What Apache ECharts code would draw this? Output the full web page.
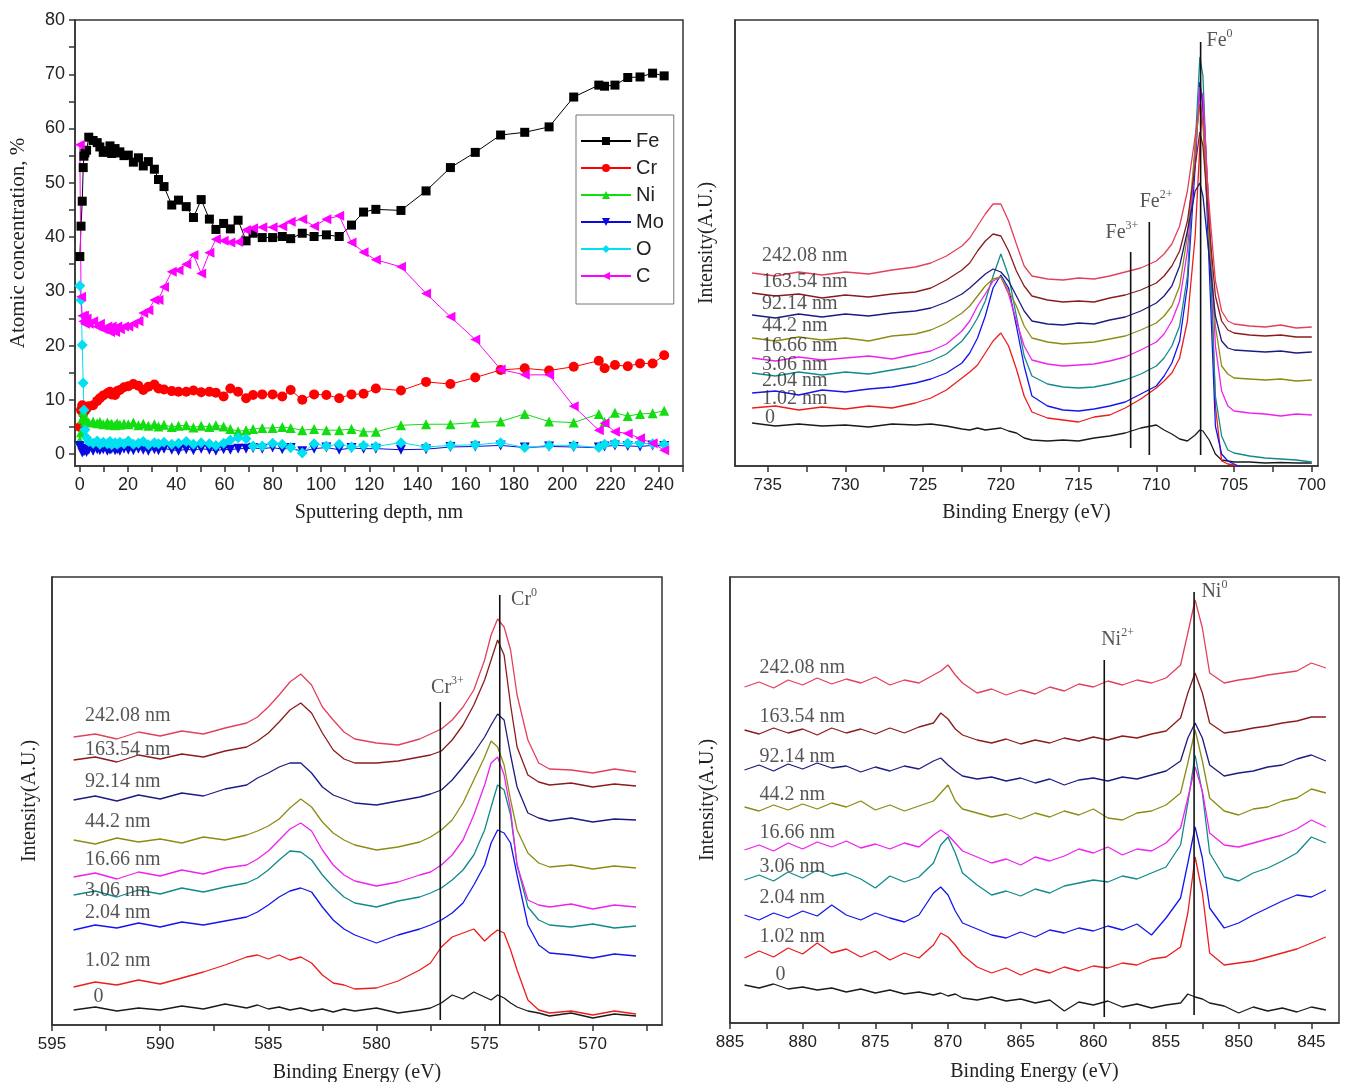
<!DOCTYPE html>
<html>
<head>
<meta charset="utf-8">
<script src="https://cdn.jsdelivr.net/npm/echarts@6/dist/echarts.min.js"></script>
<style>
  html, body { margin: 0; padding: 0; background: #fff; }
  #main { width: 1348px; height: 1082px; }
</style>
</head>
<body>
<div id="main"></div>
<script>
// ---- depth profile (top-left) ----
const depth = [0, 0.5, 1.0, 1.4, 1.7, 2.1, 2.8, 3.7, 5.5, 7.2, 8.3, 9.7, 11.4, 12.5, 13.2, 14.6, 15.5, 16.6,
  18.3, 20.1, 22.2, 24.3, 26.3, 28.4, 30.9, 32.6, 34.9, 38.1, 40.9, 44.1, 47.1, 50.3, 53.7, 56.4, 59.6, 62.4,
  65.6, 68.9, 71.8, 75.6, 79.9, 83.9, 87.4, 92.2, 97.1, 102.2, 107.5, 112.6, 117.6, 122.7, 133.1, 143.5, 153.6,
  163.9, 174.4, 184.4, 194.5, 204.7, 215.1, 217.5, 221.8, 227.1, 232.2, 237.4, 242.2];
const feConc = [36.4, 42.0, 46.6, 52.8, 54.9, 55.5, 56.0, 58.4, 57.8, 57.4, 56.6, 55.6, 55.9, 56.8, 55.4, 56.3, 55.5, 55.7,
  55.0, 55.1, 53.8, 54.6, 53.1, 53.9, 52.5, 50.6, 49.3, 45.9, 46.8, 45.6, 43.6, 46.9, 43.3, 41.4, 42.5, 41.5,
  43.1, 39.3, 40.7, 39.9, 39.9, 40.1, 39.7, 40.7, 40.1, 40.4, 40.1, 42.2, 44.6, 45.1, 44.9, 48.5, 52.8,
  55.6, 58.8, 59.3, 60.3, 65.8, 68.0, 67.8, 68.0, 69.4, 69.5, 70.2, 69.7];
const crConc = [5.0, 8.1, 9.0, 7.5, 8.5, 8.0, 8.4, 8.8, 9.0, 9.8, 10.3, 10.8, 11.2, 11.5, 11.0, 10.9, 11.6, 11.8,
  12.3, 12.5, 12.9, 12.6, 11.8, 12.4, 12.8, 12.1, 11.9, 11.6, 11.5, 11.5, 11.7, 11.4, 11.5, 11.3, 10.6, 12.1,
  11.5, 10.3, 10.9, 11.0, 11.0, 10.6, 11.8, 10.0, 11.0, 10.9, 10.3, 11.0, 11.1, 12.1, 11.7, 13.3, 12.9,
  14.1, 15.5, 15.8, 15.4, 16.1, 17.2, 15.8, 16.4, 16.2, 16.7, 16.7, 18.2];
const niConc = [2.5, 4.0, 6.5, 7.8, 6.8, 6.0, 6.2, 5.8, 6.0, 5.7, 5.9, 5.5, 5.8, 5.4, 5.6, 5.3, 5.7, 5.4,
  5.6, 5.5, 5.8, 5.3, 5.6, 5.2, 5.5, 5.1, 5.4, 5.0, 5.2, 5.3, 4.9, 5.2, 5.0, 5.3, 5.1, 4.6,
  4.2, 4.4, 4.6, 4.8, 4.8, 5.0, 4.8, 4.4, 4.6, 4.4, 4.4, 4.6, 4.1, 4.1, 5.3, 5.5, 5.5,
  5.8, 6.0, 7.4, 6.0, 5.8, 7.4, 5.9, 7.6, 7.0, 7.4, 7.5, 8.0];
const moConc = [1.5, 1.0, 0.3, 0.8, 0.5, 0.7, 0.4, 0.8, 0.6, 0.9, 0.7, 0.9, 0.6, 0.8, 1.0, 0.7, 0.9, 0.6,
  1.0, 0.8, 0.7, 1.0, 0.8, 0.6, 0.9, 0.7, 1.0, 0.8, 0.6, 0.9, 0.7, 1.0, 0.8, 0.6, 0.9, 0.8,
  1.0, 1.0, 1.1, 1.0, 1.2, 0.9, 1.1, 0.5, 1.0, 1.2, 0.8, 1.1, 1.0, 1.0, 0.8, 0.9, 1.3,
  1.4, 1.6, 1.2, 1.4, 1.3, 1.2, 1.4, 1.6, 1.5, 1.4, 1.6, 1.5];
const oConc = [31.0, 28.4, 20.1, 13.1, 8.1, 4.5, 3.0, 2.3, 2.0, 2.4, 1.8, 2.2, 1.9, 2.3, 1.7, 2.1, 1.8, 2.2,
  1.9, 2.4, 1.8, 2.0, 2.3, 1.7, 2.1, 1.9, 2.2, 1.8, 2.0, 2.3, 1.8, 2.1, 1.9, 1.6, 2.0, 2.6,
  3.0, 2.8, 1.5, 1.5, 2.0, 1.8, 1.2, 0.2, 1.9, 1.5, 1.8, 1.3, 1.6, 1.4, 2.1, 1.3, 1.6,
  1.7, 2.1, 1.2, 1.6, 1.6, 1.2, 1.8, 2.0, 2.0, 2.0, 1.9, 1.8];
const cConc = [57, 29, 25.5, 24.5, 25.5, 24, 25, 24, 24.5, 23.5, 24, 23, 23.5, 22.5, 23.5, 22.5, 23.5, 23,
  23.5, 23.5, 24, 24.5, 26, 26.5, 28.4, 28.4, 30.8, 33.6, 33.9, 35, 36.7, 33.3, 37.1, 39.6, 39.3, 39,
  39.1, 41.3, 41.6, 41.8, 41.8, 42, 42.8, 43.3, 42, 43.3, 43.9, 39, 37.2, 35.8, 34.5, 29.6, 25.3,
  21.1, 15.6, 14.6, 14.6, 8.8, 4.4, 5.7, 4.1, 3.8, 2.9, 2.0, 0.7];

// ---- shared spectrum labels and colours ----
const depthLabels = ['0', '1.02 nm', '2.04 nm', '3.06 nm', '16.66 nm', '44.2 nm', '92.14 nm', '163.54 nm', '242.08 nm'];
const specColors = ['#1a1a1a', '#ee1c1c', '#1515ee', '#138a8a', '#ee22ee', '#8c8c14', '#1c1c80', '#8b1c1c', '#e3405c'];

// ---- Fe 2p (top-right) ----
const feEnergy = [736, 734.5, 733, 731.5, 730, 728.5, 727, 725.5, 724.5, 723.5, 722.5, 722, 721.5, 721, 720.5, 720,
  719.5, 719, 718.5, 718, 717, 716, 715, 714, 713, 712, 711, 710, 709.5, 709, 708.5, 708,
  707.5, 707.2, 707, 706.6, 706.2, 705.8, 705.4, 705, 704, 703, 702, 701, 700];
const fe_0 = [43, 40, 42, 40, 41, 39, 42, 41, 42, 40, 37, 36, 38, 36, 37, 38, 35, 33, 28, 26, 25, 26, 25, 28,
  30, 33, 38, 41, 36, 32, 27, 25, 31, 36, 35, 26, 12, 6, 5, 4, 4, 3, 3.5, 3, 3];
const fe_102 = [58, 60, 56, 59, 57, 60, 58, 63, 68, 76, 88, 94, 101, 113, 125, 133, 120, 97, 70, 54, 48, 46, 44, 49,
  51, 58, 67, 78, 85, 93, 108, 145, 230, 320, 372, 250, 60, 5, 2, 1, -5, -5, -5, -5, -5];
const fe_204 = [73, 75, 71, 76, 74, 77, 79, 83, 87, 93, 103, 113, 128, 150, 178, 191, 178, 140, 100, 70, 60, 56, 55, 57,
  60, 64, 72, 80, 90, 103, 125, 180, 300, 384, 360, 200, 40, 12, 5, 2, -5, -5, -5, -5, -5];
const fe_306 = [93, 90, 94, 91, 94, 92, 96, 100, 105, 112, 125, 135, 148, 165, 190, 212, 190, 150, 110, 90, 82, 79, 78, 79,
  82, 86, 92, 100, 108, 120, 140, 190, 320, 409, 390, 230, 70, 30, 16, 13, 10, 8, 7, 6, 4];
const fe_1666 = [108, 105, 109, 106, 108, 110, 107, 112, 115, 122, 135, 145, 160, 172, 185, 189, 172, 145, 120, 106, 102, 100, 101, 102,
  105, 109, 116, 124, 132, 145, 165, 215, 310, 379, 370, 250, 120, 75, 60, 55, 53, 52, 50, 52, 51];
const fe_442 = [128, 125, 129, 126, 128, 125, 130, 132, 136, 143, 153, 160, 170, 180, 187, 189, 175, 160, 140, 128, 124, 122, 123, 124,
  127, 130, 136, 143, 150, 160, 180, 230, 320, 362, 340, 230, 140, 100, 92, 88, 87, 86, 87, 85, 86];
const fe_9214 = [151, 148, 152, 149, 152, 150, 153, 155, 158, 164, 172, 178, 185, 192, 197, 194, 185, 170, 155, 145, 142, 141, 143, 142,
  146, 149, 155, 163, 170, 180, 200, 235, 275, 283, 270, 210, 150, 125, 118, 116, 115, 114, 115, 113, 114];
const fe_16354 = [173, 170, 172, 168, 171, 169, 172, 174, 178, 186, 196, 203, 215, 225, 232, 230, 215, 195, 180, 170, 166, 164, 165, 164,
  168, 171, 176, 183, 190, 200, 215, 245, 300, 334, 320, 240, 170, 145, 136, 133, 131, 130, 131, 129, 129];
const fe_24208 = [193, 190, 194, 191, 194, 192, 196, 199, 203, 210, 220, 228, 240, 252, 262, 262, 245, 222, 200, 190, 187, 186, 188, 187,
  190, 194, 198, 205, 212, 222, 240, 275, 330, 362, 345, 260, 185, 155, 145, 142, 140, 139, 141, 138, 139];
const feLabelY = [48, 67, 85, 101, 120, 140, 162, 184, 210];
const feMarks = [{ text: 'Fe{s|0}', e: 707.15, lo: 11, hi: 424, tx: 706.8, ty: 425 },
                 { text: 'Fe{s|2+}', e: 710.45, lo: 11, hi: 244, tx: 711.1, ty: 264 },
                 { text: 'Fe{s|3+}', e: 711.65, lo: 18, hi: 214, tx: 713.3, ty: 233 }];

// ---- Cr 2p (bottom-left) ----
const crEnergy = [594, 593, 592, 591, 590, 589, 588, 587, 586, 585.5, 585, 584.5, 584, 583.5, 583, 582.5, 582, 581.5, 581,
  580, 579, 578, 577.5, 577, 576.5, 576, 575.5, 575, 574.7, 574.4, 574.1, 573.8, 573.5, 573, 572.5, 572, 571, 570, 569, 568];
const cr_0 = [15, 18, 14, 17, 15, 19, 16, 21, 17, 20, 16, 18, 15, 17, 14, 16, 13, 16, 14,
  17, 12, 15, 17, 22, 30, 26, 33, 28, 25, 30, 27, 22, 18, 14, 12, 9, 12, 7, 11, 9];
const cr_102 = [38, 43, 40, 45, 41, 47, 53, 60, 68, 70, 66, 70, 65, 68, 62, 50, 42, 40, 36,
  37, 44, 55, 62, 78, 88, 92, 96, 84, 90, 95, 92, 75, 55, 25, 15, 12, 14, 10, 14, 11];
const cr_204 = [95, 100, 97, 102, 98, 103, 100, 104, 108, 113, 120, 128, 134, 137, 133, 118, 105, 96, 90,
  82, 90, 96, 100, 105, 112, 122, 140, 160, 182, 195, 192, 182, 150, 100, 80, 72, 70, 67, 71, 69];
const cr_306 = [130, 134, 128, 135, 131, 137, 133, 138, 142, 147, 155, 165, 174, 173, 165, 150, 138, 128, 122,
  118, 124, 128, 132, 137, 145, 155, 170, 195, 218, 240, 235, 210, 160, 118, 105, 100, 98, 101, 97, 99];
const cr_1666 = [148, 152, 146, 153, 149, 155, 151, 157, 160, 166, 174, 185, 196, 202, 194, 175, 160, 150, 144,
  139, 143, 150, 153, 160, 170, 185, 210, 240, 262, 268, 250, 215, 160, 125, 120, 118, 121, 116, 120, 118];
const cr_442 = [185, 181, 187, 183, 186, 182, 188, 185, 190, 194, 199, 206, 217, 226, 218, 203, 192, 185, 180,
  175, 178, 183, 188, 195, 205, 222, 245, 268, 284, 278, 260, 225, 195, 172, 162, 158, 160, 156, 159, 157];
const cr_9214 = [225, 229, 224, 230, 226, 232, 229, 236, 240, 247, 252, 258, 262, 262, 252, 238, 230, 226, 222,
  220, 224, 228, 231, 235, 245, 258, 272, 288, 300, 311, 305, 270, 238, 212, 207, 204, 207, 203, 206, 205];
const cr_16354 = [265, 268, 263, 270, 266, 271, 268, 274, 278, 284, 292, 303, 315, 322, 312, 292, 275, 266, 262,
  262, 264, 268, 270, 274, 285, 300, 320, 345, 365, 385, 370, 320, 278, 250, 243, 240, 242, 238, 241, 239];
const cr_24208 = [288, 291, 286, 293, 289, 294, 291, 297, 302, 308, 318, 330, 343, 351, 340, 318, 305, 293, 286,
  282, 280, 286, 291, 296, 305, 318, 335, 365, 390, 406, 398, 375, 330, 285, 262, 256, 255, 252, 256, 253];
const crLabelY = [28, 64, 112, 134, 165, 203, 243, 275, 309];
const crMarks = [{ text: 'Cr{s|0}', e: 574.3, lo: 0, hi: 430, tx: 573.8, ty: 425 },
                 { text: 'Cr{s|3+}', e: 577.05, lo: 5, hi: 323, tx: 577.5, ty: 337 }];

// ---- Ni 2p (bottom-right) ----
const niEnergy = [884, 883, 882, 881, 880, 879, 878, 877, 876, 875, 874, 873, 872, 871, 870.5, 870, 869.5, 869,
  868, 867, 866, 865, 864, 863, 862, 861, 860, 859, 858, 857, 856, 855, 854, 853.5, 853, 852.5, 852,
  851, 850, 849, 848, 847, 846, 845, 844];
const ni_0 = [38, 35, 39, 34, 36, 33, 35, 31, 34, 30, 33, 29, 31, 28, 30, 27, 29, 25,
  23, 26, 22, 24, 20, 23, 12, 21, 18, 22, 16, 19, 15, 18, 20, 29, 26, 24, 20, 17, 10, 16, 12, 15, 11, 16, 13];
const ni_102 = [65, 72, 66, 75, 69, 80, 70, 74, 66, 72, 63, 70, 65, 78, 90, 86, 78, 68,
  56, 50, 55, 48, 54, 50, 56, 52, 57, 55, 60, 58, 64, 66, 76, 110, 166, 130, 70, 58, 60, 62, 66, 70, 74, 80, 86];
const ni_204 = [108, 103, 110, 105, 112, 107, 118, 108, 103, 110, 105, 101, 108, 130, 136, 128, 112, 100,
  94, 88, 85, 91, 86, 93, 90, 95, 92, 97, 93, 99, 88, 105, 125, 160, 196, 165, 115, 95, 100, 108, 115, 122, 128, 126, 133];
const ni_306 = [143, 148, 142, 151, 145, 153, 147, 150, 144, 135, 147, 141, 146, 160, 178, 186, 170, 150,
  138, 128, 132, 127, 134, 130, 137, 140, 143, 141, 147, 144, 150, 156, 178, 220, 268, 230, 170, 146, 142, 150, 155, 162, 170, 186, 180];
const ni_1666 = [173, 178, 172, 180, 174, 181, 176, 182, 175, 179, 174, 180, 176, 188, 193, 188, 180, 172,
  166, 160, 164, 158, 166, 162, 167, 174, 170, 176, 168, 174, 172, 180, 195, 225, 256, 232, 190, 178, 176, 180, 184, 188, 194, 203, 196];
const ni_442 = [216, 212, 218, 213, 219, 214, 220, 216, 222, 213, 218, 212, 217, 222, 230, 238, 222, 214,
  210, 206, 209, 204, 210, 206, 212, 208, 214, 205, 203, 210, 212, 218, 230, 260, 293, 262, 225, 212, 208, 214, 216, 222, 225, 234, 230];
const ni_9214 = [253, 258, 252, 259, 254, 260, 255, 257, 251, 256, 252, 257, 254, 262, 265, 258, 252, 247,
  244, 246, 242, 245, 240, 244, 238, 243, 245, 242, 246, 244, 248, 252, 262, 285, 300, 285, 258, 247, 250, 252, 256, 258, 264, 268, 262];
const ni_16354 = [293, 289, 295, 290, 294, 288, 295, 290, 294, 289, 295, 290, 296, 300, 310, 304, 294, 288,
  283, 280, 284, 279, 283, 280, 285, 282, 286, 283, 287, 285, 289, 292, 305, 330, 350, 330, 300, 290, 292, 295, 297, 300, 302, 306, 306];
const ni_24208 = [336, 341, 335, 343, 338, 345, 339, 344, 340, 346, 338, 343, 340, 348, 352, 358, 348, 340,
  330, 334, 328, 333, 329, 336, 332, 339, 336, 342, 338, 343, 340, 345, 358, 390, 423, 395, 350, 340, 343, 345, 348, 350, 352, 360, 355];
const niLabelY = [48, 86, 125, 156, 190, 228, 266, 306, 355];
const niMarks = [{ text: 'Ni{s|0}', e: 853.07, lo: 8, hi: 431, tx: 852.6, ty: 431 },
                 { text: 'Ni{s|2+}', e: 859.25, lo: 6, hi: 363, tx: 859.5, ty: 383 }];

const SERIF = 'Liberation Serif';
const SANS = 'Liberation Sans';
const INK = '#333';

function range(a, b, step) {
  const out = [];
  for (let v = a; v <= b + 1e-9; v += step) out.push(+v.toFixed(2));
  return out;
}

function energyAxis(grid, min, max, labels, ticks, gap) {
  return {
    type: 'value', gridIndex: grid, min: min, max: max, inverse: true,
    name: 'Binding Energy (eV)', nameLocation: 'middle', nameGap: gap,
    nameTextStyle: { fontFamily: SERIF, fontSize: 20, color: '#222' },
    axisLine: { show: true, onZero: false, lineStyle: { color: INK, width: 1.5 } },
    axisTick: { show: true, length: 6, customValues: ticks, lineStyle: { color: INK, width: 1.5 } },
    axisLabel: { customValues: labels, fontFamily: SANS, fontSize: 17, color: '#222', margin: 11 },
    splitLine: { show: false }
  };
}

function intensityAxis(grid, max, gap) {
  return {
    type: 'value', gridIndex: grid, min: 0, max: max,
    name: 'Intensity(A.U.)', nameLocation: 'middle', nameGap: gap,
    nameTextStyle: { fontFamily: SERIF, fontSize: 20, color: '#222' },
    axisLine: { show: true, onZero: false, lineStyle: { color: INK, width: 1.5 } },
    axisTick: { show: false }, axisLabel: { show: false }, splitLine: { show: false }
  };
}

function spectra(grid, energies, curves, labelX, labelY) {
  const out = curves.map((vals, k) => ({
    type: 'line', name: depthLabels[k], xAxisIndex: grid, yAxisIndex: grid,
    data: energies.map((e, i) => [e, vals[i]]),
    showSymbol: false, symbol: 'none', clip: true, silent: true, z: 2,
    lineStyle: { color: specColors[k], width: 1.3 }
  }));
  out.push({
    type: 'scatter', xAxisIndex: grid, yAxisIndex: grid, symbolSize: 1, silent: true, z: 4,
    itemStyle: { color: 'rgba(0,0,0,0)' },
    data: depthLabels.map((t, k) => ({ name: t, value: [k === 0 ? labelX[1] : labelX[0], labelY[k]] })),
    label: { show: true, position: 'right', distance: 0, formatter: '{b}', fontFamily: SERIF, fontSize: 20, color: '#2a2a2a' }
  });
  return out;
}

function markers(grid, marks) {
  const out = marks.map(m => ({
    type: 'line', xAxisIndex: grid, yAxisIndex: grid, data: [[m.e, m.lo], [m.e, m.hi]],
    showSymbol: false, symbol: 'none', silent: true, z: 3,
    lineStyle: { color: '#111', width: 1.6 }
  }));
  out.push({
    type: 'scatter', xAxisIndex: grid, yAxisIndex: grid, symbolSize: 1, silent: true, z: 4,
    itemStyle: { color: 'rgba(0,0,0,0)' },
    data: marks.map(m => ({ name: m.text, value: [m.tx, m.ty] })),
    label: {
      show: true, position: 'right', distance: 0, formatter: '{b}',
      fontFamily: SERIF, fontSize: 20, color: '#2a2a2a', lineHeight: 26, verticalAlign: 'middle',
      rich: { s: { fontFamily: SERIF, fontSize: 12, color: '#2a2a2a', lineHeight: 12, verticalAlign: 'top' } }
    }
  });
  return out;
}

function profile(name, values, color, symbol, rotate, size) {
  return {
    type: 'line', name: name, xAxisIndex: 0, yAxisIndex: 0,
    data: depth.map((d, i) => [d, values[i]]),
    symbol: symbol, symbolSize: size, symbolRotate: rotate, showSymbol: true, showAllSymbol: true,
    lineStyle: { color: color, width: 1 }, itemStyle: { color: color }, silent: true
  };
}

const gridStyle = { show: true, borderColor: INK, borderWidth: 1.5, backgroundColor: 'transparent', containLabel: false, outerBoundsMode: 'none' };

const option = {
  animation: false,
  backgroundColor: '#fff',
  textStyle: { fontFamily: SANS },
  grid: [
    Object.assign({ left: 75, top: 20, width: 608, height: 446 }, gridStyle),
    Object.assign({ left: 735, top: 20, width: 583, height: 446 }, gridStyle),
    Object.assign({ left: 52, top: 577, width: 610, height: 448 }, gridStyle),
    Object.assign({ left: 730, top: 577, width: 609, height: 446 }, gridStyle)
  ],
  legend: {
    data: ['Fe', 'Cr', 'Ni', 'Mo', 'O', 'C'], orient: 'vertical', left: 576, top: 115,
    itemWidth: 50, itemHeight: 10, itemGap: 7, padding: [16, 10, 18, 4],
    borderColor: '#777', borderWidth: 1, borderRadius: 0, selectedMode: false,
    textStyle: { fontFamily: SANS, fontSize: 20, color: '#222', lineHeight: 20 }
  },
  xAxis: [
    {
      type: 'value', gridIndex: 0, min: -2, max: 250,
      name: 'Sputtering depth, nm', nameLocation: 'middle', nameGap: 37,
      nameTextStyle: { fontFamily: SERIF, fontSize: 20, color: '#222' },
      axisLine: { show: true, onZero: false, lineStyle: { color: INK, width: 1.5 } },
      axisTick: { show: true, length: 6, customValues: range(0, 250, 10), lineStyle: { color: INK, width: 1.5 } },
      axisLabel: { customValues: range(0, 240, 20), fontFamily: SANS, fontSize: 18, color: '#222', margin: 10 },
      splitLine: { show: false }
    },
    energyAxis(1, 699.6, 737.1, range(700, 735, 5), range(700, 735, 2.5), 37),
    energyAxis(2, 566.8, 595, range(570, 595, 5), range(567.5, 595, 2.5), 38),
    energyAxis(3, 843.1, 885, range(845, 885, 5), range(845, 885, 2.5), 39)
  ],
  yAxis: [
    {
      type: 'value', gridIndex: 0, min: -2.2, max: 80,
      name: 'Atomic concentration, %', nameLocation: 'middle', nameGap: 46,
      nameTextStyle: { fontFamily: SERIF, fontSize: 21, color: '#222' },
      axisLine: { show: true, onZero: false, lineStyle: { color: INK, width: 1.5 } },
      axisTick: { show: true, length: 6, customValues: range(0, 80, 5), lineStyle: { color: INK, width: 1.5 } },
      axisLabel: { customValues: range(0, 80, 10), fontFamily: SANS, fontSize: 18, color: '#222', margin: 10 },
      splitLine: { show: false }
    },
    intensityAxis(1, 446, 18),
    intensityAxis(2, 448, 12),
    intensityAxis(3, 446, 12)
  ],
  series: [].concat(
    [
      profile('Fe', feConc, '#000000', 'rect', 0, 9),
      profile('Cr', crConc, '#ff0000', 'circle', 0, 10),
      profile('Ni', niConc, '#11dd11', 'triangle', 0, 10),
      profile('Mo', moConc, '#0a0ae0', 'triangle', 180, 10),
      profile('O', oConc, '#00e0f0', 'diamond', 0, 11),
      profile('C', cConc, '#ff00ff', 'triangle', 90, 10)
    ],
    spectra(1, feEnergy, [fe_0, fe_102, fe_204, fe_306, fe_1666, fe_442, fe_9214, fe_16354, fe_24208], [735.4, 735.2], feLabelY),
    markers(1, feMarks),
    spectra(2, crEnergy, [cr_0, cr_102, cr_204, cr_306, cr_1666, cr_442, cr_9214, cr_16354, cr_24208], [593.5, 593.1], crLabelY),
    markers(2, crMarks),
    spectra(3, niEnergy, [ni_0, ni_102, ni_204, ni_306, ni_1666, ni_442, ni_9214, ni_16354, ni_24208], [883.0, 881.9], niLabelY),
    markers(3, niMarks)
  )
};

const chart = echarts.init(document.getElementById('main'), null, { renderer: 'canvas' });
chart.setOption(option);
</script>
</body>
</html>
